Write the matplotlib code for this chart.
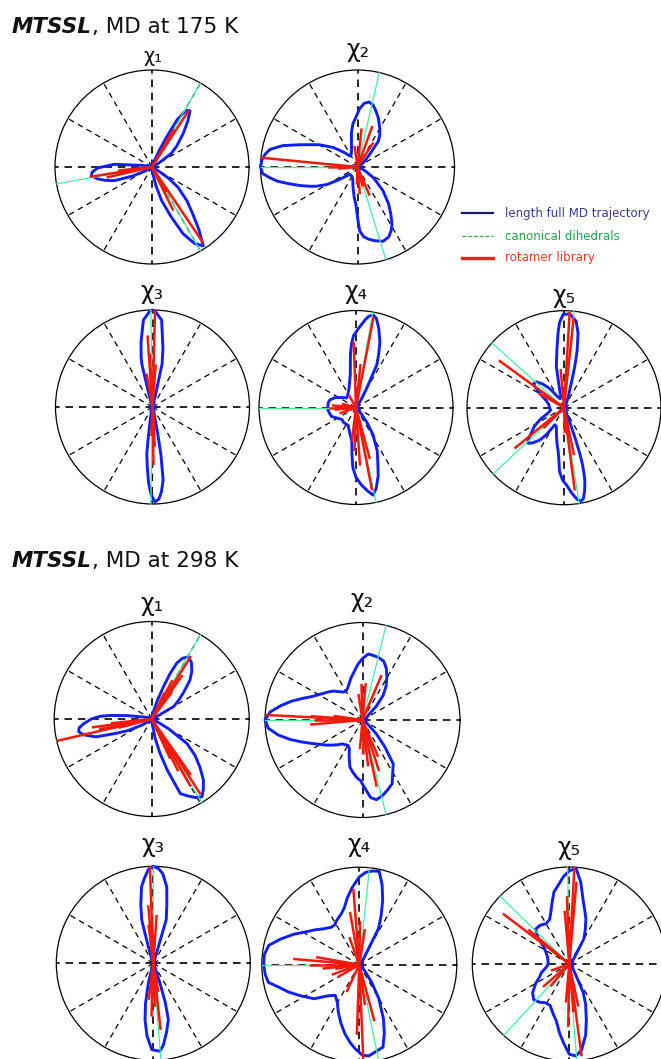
import numpy as np
import matplotlib
matplotlib.use("Agg")
import matplotlib.pyplot as plt
from matplotlib.lines import Line2D

# ---------------- DATA (angles in degrees, radius normalised to 1) ----------------
# 175 K
t175_chi1_theta = [0, 25, 30, 35, 40, 47, 52, 56, 59, 62, 64, 66, 70, 76, 120, 160, 165, 171, 176, 181, 185, 188, 192, 196, 200, 205, 210, 216, 240, 272, 277, 282, 286, 291, 295, 299, 303, 307, 311, 316, 322, 326, 330, 336, 360]
t175_chi1_r = [0.02, 0.02, 0.08, 0.24, 0.33, 0.47, 0.60, 0.70, 0.68, 0.55, 0.35, 0.20, 0.06, 0.02, 0.02, 0.02, 0.04, 0.11, 0.39, 0.56, 0.62, 0.63, 0.58, 0.50, 0.41, 0.22, 0.08, 0.03, 0.02, 0.02, 0.07, 0.20, 0.36, 0.55, 0.76, 0.90, 0.97, 0.80, 0.64, 0.50, 0.34, 0.20, 0.05, 0.02, 0.02]
t175_chi1_canon = [60, 190, 300]
t175_chi1_rot_theta = [57, 60, 304, 296, 300, 189, 193, 186]
t175_chi1_rot_r = [0.70, 0.45, 0.95, 0.50, 0.30, 0.65, 0.48, 0.35]

t175_chi2_theta = [0, 20, 30, 35, 40, 46, 51, 55, 60, 67, 72, 76, 80, 84, 88, 92, 96, 100, 105, 110, 118, 125, 132, 141, 150, 159, 164, 168.6, 172, 176, 180, 184, 187, 190, 194, 198, 202, 205, 210, 215, 223, 235, 248, 258, 264, 267.4, 270, 272, 275, 278.4, 283, 289, 294, 298, 301, 305, 310, 317, 322, 326, 332, 340, 360]
t175_chi2_r = [0.03, 0.03, 0.04, 0.06, 0.10, 0.18, 0.34, 0.40, 0.46, 0.55, 0.61, 0.66, 0.68, 0.66, 0.60, 0.51, 0.45, 0.36, 0.24, 0.18, 0.14, 0.14, 0.20, 0.32, 0.46, 0.64, 0.80, 0.92, 0.96, 0.99, 1.00, 0.98, 0.91, 0.84, 0.72, 0.62, 0.53, 0.47, 0.36, 0.22, 0.11, 0.11, 0.13, 0.22, 0.32, 0.38, 0.52, 0.66, 0.72, 0.75, 0.78, 0.81, 0.79, 0.74, 0.69, 0.60, 0.50, 0.36, 0.25, 0.20, 0.10, 0.04, 0.03]
t175_chi2_canon = [77, 180, 287]
t175_chi2_rot_theta = [174.5, 181, 185, 57, 84, 98, 70, 275, 293, 285, 268]
t175_chi2_rot_r = [1.0, 0.30, 0.20, 0.30, 0.40, 0.22, 0.45, 0.28, 0.32, 0.21, 0.18]

t175_chi3_theta = [0, 60, 74, 76, 76.5, 77.5, 80, 84, 88, 90, 92, 96, 100, 103, 104, 105, 107, 112, 180, 255, 259, 262, 263, 265, 267, 269, 271.5, 274, 276, 278.3, 280, 281.4, 283, 288, 300, 360]
t175_chi3_r = [0.02, 0.02, 0.03, 0.10, 0.18, 0.46, 0.62, 0.90, 0.98, 1.00, 0.98, 0.90, 0.68, 0.52, 0.45, 0.20, 0.06, 0.02, 0.02, 0.03, 0.10, 0.30, 0.48, 0.62, 0.78, 0.90, 0.98, 0.95, 0.88, 0.76, 0.50, 0.24, 0.08, 0.02, 0.02, 0.02]
t175_chi3_canon = [91, 269]
t175_chi3_rot_theta = [88.5, 94, 100, 85.6, 93, 273.3, 268, 276, 271]
t175_chi3_rot_r = [1.0, 0.74, 0.35, 0.44, 0.55, 0.41, 0.30, 0.25, 0.60]

t175_chi4_theta = [0, 40, 55, 58, 61, 64, 67, 70, 74, 77, 79.4, 82, 84, 88, 92, 94, 96, 98, 100, 105, 110, 116, 125, 135, 145, 155, 163.5, 170, 178.6, 185, 192, 200, 210, 221, 230, 240, 246, 255, 263, 265, 267, 270, 274, 278, 281, 284, 288, 291, 296, 302, 306, 309, 313, 320, 360]
t175_chi4_r = [0.02, 0.02, 0.05, 0.12, 0.23, 0.49, 0.60, 0.72, 0.85, 0.94, 0.97, 0.95, 0.91, 0.82, 0.74, 0.66, 0.55, 0.42, 0.34, 0.26, 0.21, 0.18, 0.15, 0.14, 0.18, 0.24, 0.28, 0.29, 0.29, 0.29, 0.28, 0.27, 0.22, 0.19, 0.20, 0.20, 0.20, 0.26, 0.35, 0.48, 0.62, 0.72, 0.80, 0.87, 0.92, 0.86, 0.74, 0.63, 0.50, 0.33, 0.20, 0.10, 0.05, 0.03, 0.02]
t175_chi4_canon = [80, 180, 282]
t175_chi4_rot_theta = [79, 92, 84, 281, 274, 268, 285, 263, 180, 175, 186, 165, 200, 120]
t175_chi4_rot_r = [0.95, 0.68, 0.45, 0.87, 0.60, 0.45, 0.55, 0.35, 0.28, 0.25, 0.22, 0.15, 0.18, 0.15]

t175_chi5_theta = [0, 50, 62, 66, 70, 72, 74, 75.4, 77, 79.3, 82, 86.5, 90.6, 93, 94.6, 97, 100.6, 103.7, 106, 112, 120, 127, 132, 136.8, 141, 144, 150, 158, 168, 180, 190, 198, 206, 212, 218, 222, 224.8, 228, 233, 237, 241.7, 248, 255, 260, 262, 264, 266, 269, 272, 275, 278, 280, 282, 284, 286, 287, 288, 289, 290, 291, 293, 297, 320, 360]
t175_chi5_r = [0.02, 0.03, 0.05, 0.08, 0.14, 0.19, 0.30, 0.44, 0.60, 0.78, 0.90, 0.97, 0.96, 0.88, 0.77, 0.60, 0.43, 0.19, 0.12, 0.10, 0.13, 0.25, 0.33, 0.39, 0.40, 0.37, 0.28, 0.20, 0.16, 0.15, 0.14, 0.17, 0.27, 0.36, 0.43, 0.50, 0.52, 0.49, 0.42, 0.33, 0.20, 0.21, 0.30, 0.40, 0.44, 0.52, 0.66, 0.75, 0.80, 0.88, 0.95, 0.98, 0.96, 0.88, 0.78, 0.70, 0.62, 0.50, 0.35, 0.20, 0.10, 0.05, 0.03, 0.02]
t175_chi5_canon = [84, 138, 223, 279]
t175_chi5_rot_theta = [144, 219.5, 86.6, 83.8, 277.4, 272, 150, 225, 95, 282]
t175_chi5_rot_r = [0.83, 0.66, 0.99, 0.93, 0.86, 0.26, 0.30, 0.30, 0.40, 0.50]

# 298 K
t298_chi1_theta = [0, 20, 25, 29.6, 35, 40, 45.5, 50, 55, 59.5, 63, 65.8, 68, 70, 73, 77, 82, 120, 160, 165, 169, 172, 175, 177, 180, 184, 187, 189.8, 193, 197.8, 202, 206, 212, 220, 240, 275, 280, 283.6, 287, 291, 295, 299, 302.8, 306, 310.3, 315, 320, 325.2, 330, 335, 345, 360]
t298_chi1_r = [0.02, 0.03, 0.05, 0.26, 0.34, 0.43, 0.56, 0.64, 0.71, 0.74, 0.70, 0.63, 0.50, 0.35, 0.20, 0.08, 0.03, 0.02, 0.04, 0.08, 0.12, 0.25, 0.42, 0.53, 0.62, 0.70, 0.75, 0.76, 0.72, 0.60, 0.39, 0.27, 0.12, 0.04, 0.02, 0.03, 0.20, 0.36, 0.55, 0.82, 0.87, 0.92, 0.95, 0.90, 0.82, 0.70, 0.58, 0.44, 0.20, 0.05, 0.02, 0.02]
t298_chi1_canon = [60, 193, 301]
t298_chi1_rot_theta = [193, 58, 55, 62, 53, 303, 300, 297, 305, 295, 191, 186, 195, 188, 64]
t298_chi1_rot_r = [1.0, 0.76, 0.55, 0.45, 0.35, 0.92, 0.80, 0.60, 0.70, 0.45, 0.55, 0.42, 0.35, 0.62, 0.30]

t298_chi2_theta = [0, 20, 40, 45, 50, 55, 60, 65, 70, 75, 80, 85, 90, 95, 100, 105, 110, 115, 120, 125, 130, 135, 140, 145, 150, 155, 160, 165, 170, 175, 180, 185, 190, 195, 200, 205, 210, 215, 220, 225, 230, 235, 240, 245, 250, 255, 260, 265, 268, 272, 276, 280, 285, 290, 295, 300, 305, 310, 315, 320, 330, 345, 360]
t298_chi2_r = [0.03, 0.04, 0.08, 0.20, 0.33, 0.42, 0.50, 0.58, 0.64, 0.66, 0.67, 0.68, 0.63, 0.57, 0.50, 0.45, 0.40, 0.36, 0.34, 0.35, 0.38, 0.42, 0.45, 0.48, 0.52, 0.57, 0.65, 0.75, 0.85, 0.95, 1.00, 0.97, 0.88, 0.77, 0.66, 0.57, 0.50, 0.45, 0.40, 0.36, 0.32, 0.31, 0.30, 0.32, 0.40, 0.50, 0.55, 0.60, 0.62, 0.70, 0.80, 0.83, 0.80, 0.76, 0.72, 0.62, 0.55, 0.35, 0.20, 0.08, 0.04, 0.03, 0.03]
t298_chi2_canon = [76, 180, 284]
t298_chi2_rot_theta = [177, 175.8, 185, 67, 91.6, 99, 282, 293, 277, 265, 85, 270, 288, 180, 172]
t298_chi2_rot_r = [1.0, 0.53, 0.54, 0.50, 0.37, 0.27, 0.70, 0.41, 0.48, 0.30, 0.38, 0.35, 0.55, 0.50, 0.30]

t298_chi3_theta = [0, 60, 70, 73, 73.5, 77, 80, 84, 87, 90, 93, 96, 98.7, 102, 105, 106.7, 110, 120, 240, 252, 256, 259, 261.7, 265, 269, 272, 274.3, 277, 281, 285, 287, 288.4, 292, 300, 360]
t298_chi3_r = [0.02, 0.02, 0.04, 0.18, 0.47, 0.62, 0.80, 0.93, 0.98, 1.00, 0.97, 0.88, 0.80, 0.62, 0.46, 0.18, 0.05, 0.02, 0.02, 0.03, 0.21, 0.42, 0.59, 0.75, 0.89, 0.90, 0.91, 0.85, 0.72, 0.60, 0.42, 0.22, 0.05, 0.02, 0.02]
t298_chi3_canon = [90, 274.5]
t298_chi3_rot_theta = [92, 95, 97, 86, 276.3, 263, 268, 272, 280, 88]
t298_chi3_rot_r = [1.0, 0.60, 0.40, 0.50, 0.69, 0.38, 0.55, 0.45, 0.30, 0.30]

t298_chi4_theta = [0, 30, 50, 58, 62, 66, 70, 74, 78, 82, 86, 90, 95, 100, 105, 110, 117, 122, 127, 135, 142, 149, 155, 162, 168, 174, 180, 186, 191, 196, 201, 208, 217, 225, 232, 240, 246, 252, 258, 263, 267, 272, 276, 282, 286, 290, 294, 300, 305, 310, 320, 340, 360]
t298_chi4_r = [0.03, 0.03, 0.05, 0.12, 0.42, 0.55, 0.70, 0.85, 0.98, 0.97, 0.95, 0.90, 0.80, 0.70, 0.60, 0.55, 0.51, 0.48, 0.48, 0.52, 0.58, 0.65, 0.74, 0.85, 0.95, 0.98, 0.98, 0.97, 0.95, 0.85, 0.78, 0.68, 0.58, 0.45, 0.40, 0.45, 0.53, 0.62, 0.72, 0.80, 0.86, 0.93, 0.94, 0.90, 0.88, 0.75, 0.61, 0.40, 0.22, 0.10, 0.04, 0.03, 0.03]
t298_chi4_canon = [84, 180, 281.4]
t298_chi4_rot_theta = [175, 180, 186, 190, 94.5, 89, 81, 272.4, 268, 245, 278, 170, 200, 100, 285, 210, 110]
t298_chi4_rot_r = [0.68, 0.52, 0.38, 0.25, 0.78, 0.45, 0.37, 0.97, 0.72, 0.31, 0.42, 0.45, 0.30, 0.55, 0.60, 0.25, 0.30]

t298_chi5_theta = [0, 30, 45, 55, 60, 65, 70, 75, 78, 82, 86, 90, 94, 98, 102, 106, 110, 114, 120, 127, 134, 140, 146, 155, 165, 175, 182, 190, 197, 203, 210, 218, 225, 232, 238, 245, 252, 257, 262, 266, 270, 274, 278, 283, 287, 292, 296, 302, 310, 330, 360]
t298_chi5_r = [0.03, 0.03, 0.05, 0.12, 0.30, 0.39, 0.50, 0.60, 0.68, 0.85, 0.99, 0.96, 0.90, 0.82, 0.76, 0.65, 0.56, 0.50, 0.48, 0.50, 0.50, 0.42, 0.32, 0.26, 0.23, 0.22, 0.22, 0.25, 0.30, 0.33, 0.40, 0.48, 0.52, 0.50, 0.47, 0.47, 0.54, 0.60, 0.72, 0.82, 0.93, 0.95, 0.90, 0.75, 0.60, 0.45, 0.33, 0.11, 0.05, 0.03, 0.03]
t298_chi5_canon = [91, 135.5, 227.5, 274.4]
t298_chi5_rot_theta = [142.8, 87, 92, 277.6, 269, 221, 275, 282, 95, 230, 140, 200, 265, 85]
t298_chi5_rot_r = [0.86, 1.0, 0.70, 0.96, 0.65, 0.36, 0.50, 0.45, 0.55, 0.30, 0.55, 0.20, 0.40, 0.85]

section_titles = [", MD at 175 K", ", MD at 298 K"]
chi_labels = ["χ₁", "χ₂", "χ₃", "χ₄", "χ₅"]
legend_labels = ["length full MD trajectory", "canonical dihedrals", "rotamer library"]

# ---------------- STYLE / LAYOUT ----------------
W, H = 661, 1059
BLUE = "#1020f0"
GREEN = "#3ff0a0"
RED = "#f21a0c"
FONT = "DejaVu Sans"

fig = plt.figure(figsize=(W / 100, H / 100), dpi=100)
fig.patch.set_facecolor("white")


def polar_at(cx, cy, R):
    ax = fig.add_axes([(cx - R) / W, (H - cy - R) / H, 2 * R / W, 2 * R / H],
                      projection="polar")
    ax.set_ylim(0, 1)
    ax.set_yticks([])
    ax.set_thetagrids(np.arange(0, 360, 30), labels=[""] * 12)
    ax.grid(True, axis="x", color="black", linestyle=(0, (4.5, 3.5)), linewidth=0.9)
    for i, gl in enumerate(ax.xaxis.get_gridlines()):
        if i % 3 == 0:
            gl.set_linewidth(1.2)
    ax.spines["polar"].set_color("black")
    ax.spines["polar"].set_linewidth(0.9)
    ax.tick_params(axis="x", pad=0, length=0)
    return ax


def draw(ax, th, r, canon, rot_th, rot_r):
    ax.plot(np.radians(th), r, color=BLUE, lw=2.1, clip_on=False, zorder=3,
            solid_joinstyle="round")
    for c in canon:
        ax.plot(np.radians([c, c]), [0, 1], color=GREEN, lw=0.9, zorder=4, clip_on=False)
    for t, rr in zip(rot_th, rot_r):
        ax.plot(np.radians([t, t]), [0, rr], color=RED, lw=1.8, zorder=5,
                clip_on=False, solid_capstyle="butt")


panels = [
    # (cx, cy, R, theta, r, canon, rot_theta, rot_r)
    (152.0, 167.0, 97.0, t175_chi1_theta, t175_chi1_r, t175_chi1_canon, t175_chi1_rot_theta, t175_chi1_rot_r),
    (357.5, 167.0, 97.0, t175_chi2_theta, t175_chi2_r, t175_chi2_canon, t175_chi2_rot_theta, t175_chi2_rot_r),
    (152.5, 407.0, 97.0, t175_chi3_theta, t175_chi3_r, t175_chi3_canon, t175_chi3_rot_theta, t175_chi3_rot_r),
    (356.0, 407.5, 97.0, t175_chi4_theta, t175_chi4_r, t175_chi4_canon, t175_chi4_rot_theta, t175_chi4_rot_r),
    (564.0, 407.7, 97.0, t175_chi5_theta, t175_chi5_r, t175_chi5_canon, t175_chi5_rot_theta, t175_chi5_rot_r),
    (151.7, 719.0, 97.5, t298_chi1_theta, t298_chi1_r, t298_chi1_canon, t298_chi1_rot_theta, t298_chi1_rot_r),
    (362.5, 720.0, 97.5, t298_chi2_theta, t298_chi2_r, t298_chi2_canon, t298_chi2_rot_theta, t298_chi2_rot_r),
    (153.3, 963.3, 97.0, t298_chi3_theta, t298_chi3_r, t298_chi3_canon, t298_chi3_rot_theta, t298_chi3_rot_r),
    (359.3, 964.7, 97.5, t298_chi4_theta, t298_chi4_r, t298_chi4_canon, t298_chi4_rot_theta, t298_chi4_rot_r),
    (569.3, 964.0, 97.0, t298_chi5_theta, t298_chi5_r, t298_chi5_canon, t298_chi5_rot_theta, t298_chi5_rot_r),
]
for cx, cy, R, th, r, canon, rth, rr in panels:
    ax = polar_at(cx, cy, R)
    draw(ax, th, r, canon, rth, rr)

# chi labels (x, y centre in px, size)
label_pos = [(153, 56, 14), (358, 50, 17), (152, 292, 17), (356, 292, 17), (564, 296, 17),
             (152, 604, 17), (362, 600, 17), (153, 845, 17), (359, 845, 17), (569, 848, 17)]
for i, (x, y, s) in enumerate(label_pos):
    fig.text(x / W, 1 - y / H, chi_labels[i % 5], ha="center", va="center",
             fontsize=s, family=FONT, color="#111111")

# section titles
renderer = fig.canvas.get_renderer()
for (x, yb), rest in zip([(12, 33), (12, 567)], section_titles):
    t1 = fig.text(x / W, 1 - yb / H, "MTSSL", fontsize=15.5, fontweight="bold",
                  fontstyle="italic", family=FONT, va="baseline", color="#111111")
    bb = t1.get_window_extent(renderer=renderer)
    fig.text(bb.x1 / W, 1 - yb / H, rest, fontsize=15.5, family=FONT,
             va="baseline", color="#111111")

# legend
leg_y = [213, 236, 258]
leg_line_col = ["#1c1c78", "#2aa84a", "#dd2a1e"]
leg_text_col = ["#3b3b8f", "#22a048", "#e8332a"]
leg_ls = ["-", (0, (3, 1.6)), "-"]
leg_lw = [1.6, 0.9, 2.4]
for y, lc, tc, ls, lw, lab in zip(leg_y, leg_line_col, leg_text_col, leg_ls, leg_lw, legend_labels):
    fig.add_artist(Line2D([462 / W, 493 / W], [1 - y / H, 1 - y / H], color=lc, ls=ls, lw=lw,
                          transform=fig.transFigure))
    fig.text(505 / W, 1 - y / H, lab, fontsize=8.5, family=FONT,
             color=tc, va="center", ha="left")

fig.savefig("out.png", dpi=100, facecolor="white")
